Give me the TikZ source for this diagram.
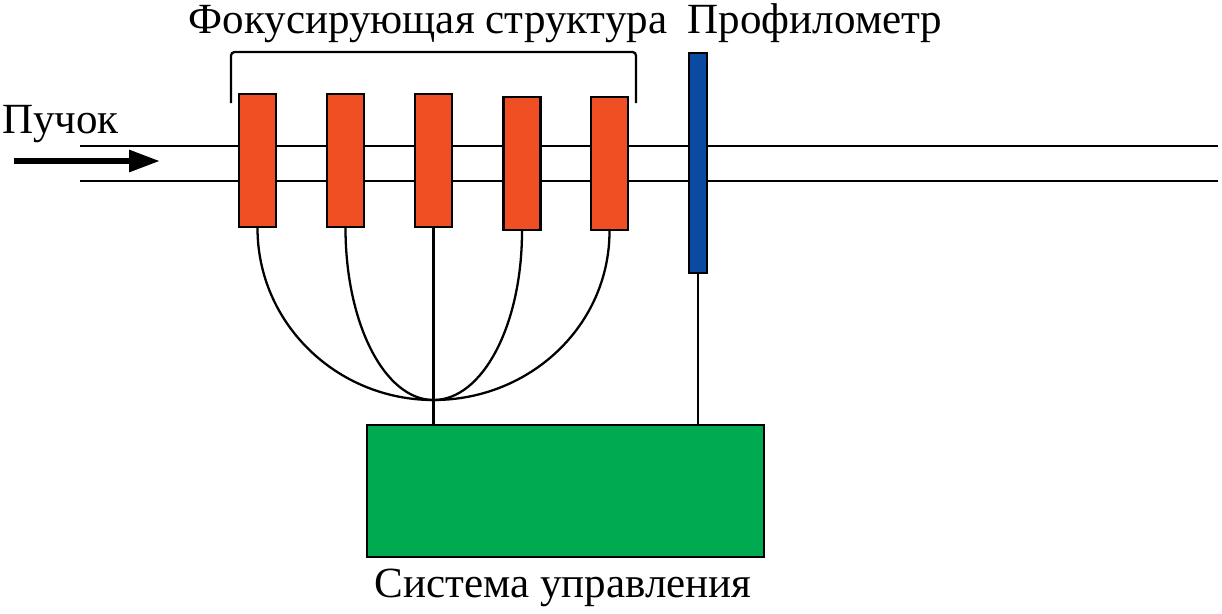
\documentclass[tikz,border=0pt]{standalone}
\usepackage{fontspec}
\setmainfont{Liberation Serif}
\usetikzlibrary{arrows.meta}

\definecolor{lensred}{RGB}{240,78,35}
\definecolor{profblue}{RGB}{10,74,160}
\definecolor{ctrlgreen}{RGB}{0,170,80}

\begin{document}
\begin{tikzpicture}[x=0.02cm,y=-0.02cm,line width=1.3pt,
  lens/.style={draw,fill=lensred,inner sep=0,minimum width=0.74cm,minimum height=2.66cm},
  lbl/.style={font=\fontsize{24.5}{28}\selectfont,anchor=base,inner sep=0}]
  \useasboundingbox (0,0) rectangle (1222,613);

  % beam pipe
  \coordinate (b1s) at (80,146);
  \coordinate (b1e) at (1218,146);
  \coordinate (b2s) at (80,181);
  \coordinate (b2e) at (1218,181);
  \draw (b1s) -- (b1e);
  \draw (b2s) -- (b2e);

  \coordinate (ba) at (14,161);
  \coordinate (bb) at (160,161);
  \draw[line width=3.4pt,-{Triangle[length=0.62cm,width=0.42cm]}] (ba) -- (bb);

  % focusing elements
  \node[lens] (L1) at (257.5,160.5) {};
  \node[lens] (L2) at (345.5,160.5) {};
  \node[lens] (L3) at (433.5,160.5) {};
  \node[lens] (L4) at (522,163.5) {};
  \node[lens] (L5) at (609.5,163.5) {};

  \node[draw,fill=profblue,inner sep=0,minimum width=0.36cm,minimum height=4.4cm] (P) at (698,163) {};
  \node[draw,fill=ctrlgreen,inner sep=0,minimum width=7.94cm,minimum height=2.64cm] (S) at (565.5,491) {};

  \coordinate (f1) at (231,103);
  \coordinate (f2) at (231,52);
  \coordinate (f3) at (636,52);
  \coordinate (f4) at (636,103);
  \draw[rounded corners=2pt] (f1) -- (f2) -- (f3) -- (f4);

  % cables
  \coordinate (hub) at (433.5,400);
  \draw (L1.south) .. controls +(0,95) and +(-97,0) .. (hub);
  \draw (L2.south) .. controls +(0,95) and +(-49,0) .. (hub);
  \draw (L3.south) -- (L3.south |- S.north);
  \draw (L4.south) .. controls +(0,94) and +(49,0) .. (hub);
  \draw (L5.south) .. controls +(0,94) and +(97,0) .. (hub);
  \draw (P.south) -- (P.south |- S.north);

  \node[lbl] (beam) at (60.5,133) {Пучок};
  \node[lbl] (focus) at (428,33) {Фокусирующая структура};
  \node[lbl] (prof) at (815,33) {Профилометр};
  \node[lbl] (ctrl) at (563,597) {Система управления};
\end{tikzpicture}
\end{document}
